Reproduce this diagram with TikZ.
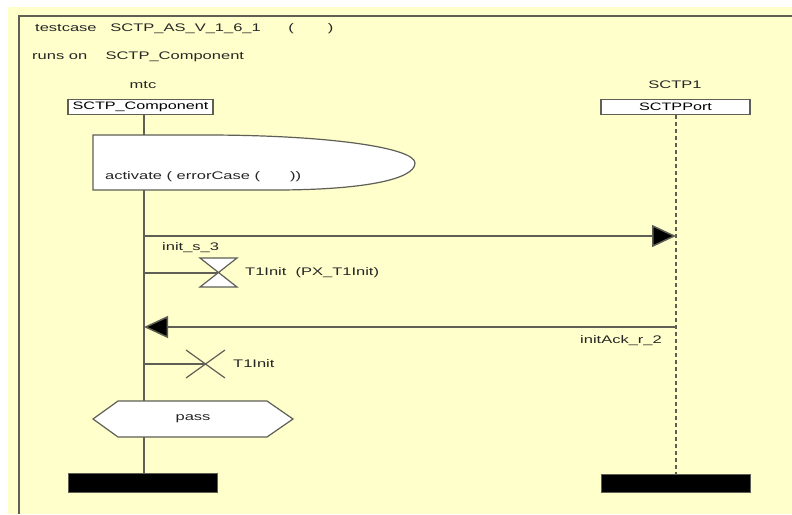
\documentclass[tikz,border=0pt]{standalone}
\usepackage{fontspec}
\setmainfont{Liberation Sans}[FakeStretch=1.5]
\usetikzlibrary{arrows.meta}
\definecolor{bgyellow}{RGB}{255,255,204}
\definecolor{linegray}{RGB}{95,95,85}
\tikzset{
  lbl/.style={inner sep=0pt, font=\fontsize{11}{13}\selectfont, text=black!85},
  headbox/.style={draw=linegray, line width=1.3pt, fill=white, minimum width=145pt, minimum height=15pt, inner sep=0pt, font=\fontsize{10.8}{12}\selectfont},
  lifeline/.style={draw=linegray, line width=1.6pt},
  envline/.style={draw=linegray, line width=1.6pt, dash pattern=on 4pt off 3pt},
  msg/.style={draw=linegray, line width=1.5pt, -{Triangle[length=24pt,width=22pt,fill=black]}},
  endbar/.style={fill=black, draw=linegray, line width=0.6pt},
  shapeline/.style={draw=linegray, line width=1.2pt, fill=white},
}
\begin{document}
\begin{tikzpicture}[x=1pt,y=-1pt]
\useasboundingbox (0,0) rectangle (792,514);
\fill[white] (0,0) rectangle (792,514);
\fill[bgyellow] (8,7) rectangle (792,514);
% frame
\coordinate (fTR) at (792,16);
\coordinate (fTL) at (19,16);
\coordinate (fBL) at (19,514);
\draw[draw=linegray, line width=2.2pt] (fTR) -- (fTL) -- (fBL);
% header
\node[lbl, anchor=west] (title) at (35,29) {testcase\ \ \ SCTP\_AS\_V\_1\_6\_1\ \ \ \ \ \ (\hspace{34pt})};
\node[lbl, anchor=west] (runs) at (32,57) {runs on\ \ \ \ SCTP\_Component};
% instances
\node[lbl] (mtc) at (143,85) {mtc};
\node[headbox] (comp) at (140.5,107) {SCTP\_Component};
\node[lbl] (sctp1) at (675,85) {SCTP1};
\node[headbox, minimum width=149pt] (port) at (675.5,107) {SCTPPort};
% end bars
\node[endbar, minimum width=149pt, minimum height=19pt, inner sep=0pt] (endA) at (142.5,482.5) {};
\node[endbar, minimum width=149pt, minimum height=18pt, inner sep=0pt] (endB) at (675.5,483) {};
% lifelines
\coordinate (aTop) at (144,114.5);
\coordinate (aBot) at (144,473);
\coordinate (bTop) at (676,115);
\coordinate (bBot) at (676,474);
\draw[lifeline] (aTop) -- (aBot);
\draw[envline] (bTop) -- (bBot);
% activate
\draw[shapeline] (93,135) -- (205,135) .. controls (330,135) and (415,148) .. (415,163)
   .. controls (415,180) and (360,190) .. (275,190) -- (93,190) -- cycle;
\node[lbl, anchor=west] (act) at (105,177) {activate ( errorCase (\hspace{30pt}))};
% message 1
\coordinate (m1a) at (144,236);
\coordinate (m1b) at (676,236);
\draw[msg] (m1a) -- (m1b);
\node[lbl, anchor=west] (m1l) at (162,248) {init\_s\_3};
% timer start
\coordinate (t1a) at (144,273);
\coordinate (t1c) at (218.5,273);
\draw[draw=linegray, line width=1.3pt] (t1a) -- (t1c);
\draw[shapeline] (200,258) -- (237,258) -- (200,287) -- (237,287) -- cycle;
\node[lbl, anchor=west] (t1l) at (245,273) {T1Init\ \ (PX\_T1Init)};
% message 2
\coordinate (m2a) at (676,327);
\coordinate (m2b) at (144,327);
\draw[msg] (m2a) -- (m2b);
\node[lbl, anchor=east] (m2l) at (662,341) {initAck\_r\_2};
% timer cancel
\coordinate (t2a) at (144,364);
\coordinate (t2c) at (205,364);
\draw[draw=linegray, line width=1.3pt] (t2a) -- (t2c);
\draw[draw=linegray, line width=1.2pt] (186,350) -- (225,378) (186,378) -- (225,350);
\node[lbl, anchor=west] (t2l) at (233,364) {T1Init};
% pass
\draw[shapeline] (93,419) -- (118,401) -- (267,401) -- (293,419) -- (267,437) -- (118,437) -- cycle;
\node[lbl] (pass) at (193,419) {pass};
\end{tikzpicture}
\end{document}
